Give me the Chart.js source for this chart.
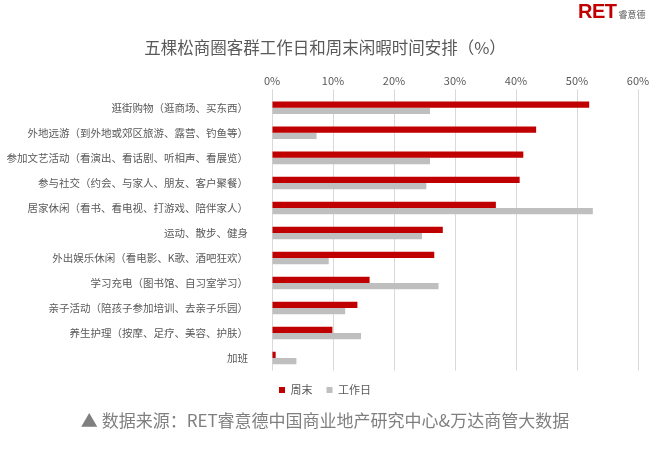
<!DOCTYPE html>
<html>
<head>
<meta charset="utf-8">
<script src="https://cdn.jsdelivr.net/npm/chart.js@4"></script>
<style>
  body { margin: 0; background: #fff; }
  #wrap { position: relative; width: 660px; height: 455px; }
  #logo { position: absolute; left: 578px; top: 1px; white-space: nowrap; }
  #logo .ret { font-family: "Liberation Sans", Arial, sans-serif; font-weight: bold; font-size: 20px; line-height: 20px; color: #c00000; letter-spacing: -0.5px; }
  #logo .cn { font-family: "Noto Sans CJK SC", sans-serif; font-size: 9px; color: #595959; margin-left: 2px; }
</style>
</head>
<body>
<div id="wrap">
  <canvas id="myChart" width="660" height="455"></canvas>
  <div id="logo"><span class="ret">RET</span><span class="cn">睿意德</span></div>
</div>
<script>
var categories = [
  '逛街购物（逛商场、买东西）',
  '外地远游（到外地或郊区旅游、露营、钓鱼等）',
  '参加文艺活动（看演出、看话剧、听相声、看展览）',
  '参与社交（约会、与家人、朋友、客户聚餐）',
  '居家休闲（看书、看电视、打游戏、陪伴家人）',
  '运动、散步、健身',
  '外出娱乐休闲（看电影、K歌、酒吧狂欢）',
  '学习充电（图书馆、自习室学习）',
  '亲子活动（陪孩子参加培训、去亲子乐园）',
  '养生护理（按摩、足疗、美容、护肤）',
  '加班'
];
var weekend = [52.0, 43.3, 41.2, 40.6, 36.7, 28.0, 26.6, 16.0, 14.0, 9.9, 0.6];
var workday = [25.9, 7.3, 25.9, 25.3, 52.6, 24.6, 9.3, 27.3, 12.0, 14.6, 4.0];

Chart.defaults.font.family = '"Noto Sans CJK SC", "Noto Sans", sans-serif';
Chart.defaults.color = '#595959';

var ctx = document.getElementById('myChart').getContext('2d');
var myChart = new Chart(ctx, {
  type: 'bar',
  data: {
    labels: categories,
    datasets: [{
      label: '周末',
      data: weekend,
      backgroundColor: '#c00000',
      categoryPercentage: 0.5,
      barPercentage: 1.0
    }, {
      label: '工作日',
      data: workday,
      backgroundColor: '#bfbfbf',
      categoryPercentage: 0.5,
      barPercentage: 1.0
    }]
  },
  options: {
    indexAxis: 'y',
    responsive: false,
    animation: false,
    layout: { padding: { left: 0, right: 10, top: 0, bottom: 0 } },
    plugins: {
      title: {
        display: true,
        text: '五棵松商圈客群工作日和周末闲暇时间安排（%）',
        color: '#595959',
        font: { size: 16.5, weight: 'normal' },
        padding: { top: 38, bottom: 14.3 }
      },
      subtitle: {
        display: true,
        position: 'bottom',
        text: '▲ 数据来源：RET睿意德中国商业地产研究中心&万达商管大数据',
        color: '#7f7f7f',
        font: { size: 17, weight: 'normal' },
        padding: { top: 5.2, bottom: 23.8 }
      },
      legend: {
        display: true,
        position: 'bottom',
        labels: {
          boxWidth: 6,
          boxHeight: 6,
          padding: 14,
          color: '#595959',
          font: { size: 11 }
        }
      },
      tooltip: { enabled: false }
    },
    scales: {
      x: {
        position: 'top',
        min: 0,
        max: 60,
        ticks: {
          stepSize: 10,
          padding: 2,
          color: '#595959',
          font: { size: 11 },
          callback: function (v) { return v + '%'; }
        },
        grid: { color: '#d9d9d9', tickLength: 6, tickColor: '#d9d9d9' },
        border: { display: false }
      },
      y: {
        grid: { display: false },
        border: { display: false },
        ticks: {
          padding: 16,
          color: '#595959',
          font: { size: 10.5 }
        },
        afterFit: function (scale) { scale.width = 272; }
      },
      pad: {
        type: 'linear',
        position: 'right',
        grid: { display: false },
        border: { display: false },
        ticks: { display: false },
        afterFit: function (scale) { scale.width = 12; }
      }
    }
  }
});
</script>
</body>
</html>
